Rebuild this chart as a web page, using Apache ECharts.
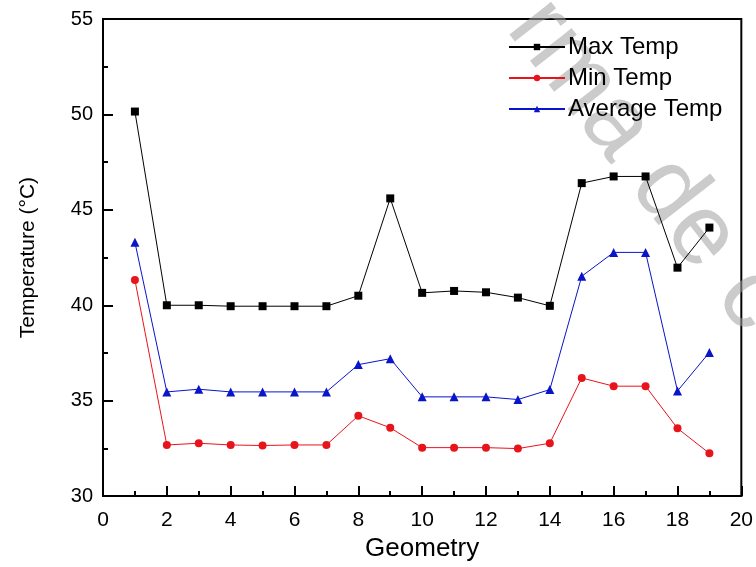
<!DOCTYPE html>
<html>
<head>
<meta charset="utf-8">
<script src="https://cdn.jsdelivr.net/npm/echarts@6/dist/echarts.min.js"></script>
<style>
  html, body { margin: 0; padding: 0; background: #fff; }
  #chart { width: 756px; height: 567px; }
</style>
</head>
<body>
<div id="chart"></div>
<script>
// geometry index on the x axis
var geometry = [1, 2, 3, 4, 5, 6, 7, 8, 9, 10, 11, 12, 13, 14, 15, 16, 17, 18, 19];
var maxTemp = [50.15, 40.0, 40.0, 39.95, 39.95, 39.95, 39.95, 40.5, 45.6, 40.65, 40.75, 40.68, 40.4, 39.97, 46.4, 46.75, 46.75, 41.97, 44.07];
var minTemp = [41.33, 32.68, 32.77, 32.68, 32.65, 32.68, 32.68, 34.21, 33.58, 32.54, 32.54, 32.54, 32.49, 32.77, 36.19, 35.76, 35.76, 33.55, 32.24];
var avgTemp = [43.3, 35.46, 35.6, 35.46, 35.46, 35.46, 35.46, 36.89, 37.2, 35.2, 35.2, 35.2, 35.06, 35.58, 41.52, 42.77, 42.77, 35.51, 37.53];

function pairs(ys) {
  return geometry.map(function (x, i) { return [x, ys[i]]; });
}

var myChart = echarts.init(document.getElementById('chart'));

var font = 'Liberation Sans, Arial, sans-serif';

var options = {
  backgroundColor: '#fff',
  animation: false,
  grid: {
    left: 103, right: 10, top: 19, bottom: 69,
    show: true, borderColor: '#000', borderWidth: 2
  },
  legend: {
    orient: 'vertical',
    left: 503, top: 30,
    itemWidth: 56, itemHeight: 8, itemGap: 7,
    textStyle: { fontFamily: font, fontSize: 24, color: '#000', padding: [0, 0, 0, -2] },
    data: ['Max Temp', 'Min Temp', 'Average Temp']
  },
  xAxis: {
    type: 'value', min: 0, max: 20, interval: 2,
    name: 'Geometry', nameLocation: 'middle', nameGap: 39,
    nameTextStyle: { fontFamily: font, fontSize: 26, color: '#000' },
    axisLine: { lineStyle: { color: '#000', width: 2 } },
    axisTick: { inside: true, length: 10, lineStyle: { color: '#000', width: 2 } },
    minorTick: { show: true, splitNumber: 2, length: 5, lineStyle: { color: '#000', width: 2 } },
    axisLabel: { fontFamily: font, fontSize: 21, color: '#000', margin: 14 },
    splitLine: { show: false }
  },
  yAxis: {
    type: 'value', min: 30, max: 55, interval: 5,
    name: 'Temperature (°C)', nameLocation: 'middle', nameGap: 64,
    nameTextStyle: { fontFamily: font, fontSize: 21, color: '#000' },
    axisLine: { lineStyle: { color: '#000', width: 2 } },
    axisTick: { inside: true, length: 10, lineStyle: { color: '#000', width: 2 } },
    minorTick: { show: true, splitNumber: 2, length: 5, lineStyle: { color: '#000', width: 2 } },
    axisLabel: { fontFamily: font, fontSize: 20, color: '#000', margin: 10 },
    splitLine: { show: false }
  },
  series: [
    {
      name: 'Max Temp', type: 'line', data: pairs(maxTemp), z: 5,
      symbol: 'rect', symbolSize: 8,
      itemStyle: { color: '#000' }, lineStyle: { color: '#000', width: 1 }
    },
    {
      name: 'Min Temp', type: 'line', data: pairs(minTemp), z: 5,
      symbol: 'circle', symbolSize: 8,
      itemStyle: { color: '#e8141c' }, lineStyle: { color: '#e8141c', width: 1 }
    },
    {
      name: 'Average Temp', type: 'line', data: pairs(avgTemp), z: 5,
      symbol: 'triangle', symbolSize: 9,
      itemStyle: { color: '#0a14c8' }, lineStyle: { color: '#0a14c8', width: 1 }
    }
  ],
  // light grey diagonal watermark, under the lines
  graphic: [
    {
      type: 'text', x: 527, y: 12, rotation: -52 * Math.PI / 180, z: 1, silent: true,
      style: {
        text: 'rma de c', fontFamily: font, fontSize: 100,
        fill: 'rgba(160,160,160,0.55)', textAlign: 'left', textVerticalAlign: 'middle'
      }
    }
  ]
};

myChart.setOption(options);
</script>
</body>
</html>
